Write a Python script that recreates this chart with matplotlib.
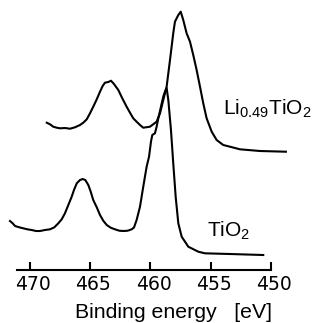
import numpy as np
import matplotlib
matplotlib.use("Agg")
import matplotlib.pyplot as plt
from matplotlib.ticker import FixedLocator
from matplotlib.transforms import ScaledTranslation

plt.rcParams['font.family'] = ['Liberation Sans', 'DejaVu Sans']
plt.rcParams['mathtext.fontset'] = 'custom'
plt.rcParams['mathtext.rm'] = 'Liberation Sans'
plt.rcParams['mathtext.it'] = 'Liberation Sans:italic'

# Ti 2p XPS spectra, intensity in arbitrary units
li_energy = [468.61, 468.34, 468.07, 467.78, 467.51, 467.10, 466.68, 466.27,
             465.85, 465.58, 465.29, 465.02, 464.75, 464.46, 464.19, 463.97,
             463.78, 463.50, 463.28, 463.03, 462.67, 462.34, 461.98, 461.70,
             461.43, 461.15, 460.87, 460.60, 460.04, 459.49, 459.21, 458.94,
             458.66, 458.38, 458.11, 457.97, 457.69, 457.49, 457.28, 457.00,
             456.72, 456.45, 456.17, 455.89, 455.62, 455.34, 454.92, 454.51,
             453.96, 453.40, 452.57, 450.91, 448.76]
li_counts = [146.3, 144.7, 142.3, 141.3, 140.7, 141.0, 140.3, 141.7,
             144.0, 146.3, 149.7, 155.7, 162.3, 169.7, 177.3, 183.0,
             186.3, 187.0, 188.3, 185.0, 179.0, 170.7, 162.3, 156.3,
             150.7, 147.3, 144.0, 141.3, 142.3, 147.3, 155.7, 169.0,
             182.3, 209.0, 235.7, 247.3, 254.0, 257.3, 249.0, 235.7,
             227.3, 214.0, 199.0, 182.3, 165.7, 150.7, 137.3, 129.0,
             124.0, 122.3, 119.7, 118.0, 117.3]

tio2_energy = [471.66, 471.44, 471.24, 470.89, 470.56, 470.22, 469.86, 469.50,
               469.17, 468.76, 468.34, 467.98, 467.65, 467.37, 467.10, 466.82,
               466.54, 466.35, 466.12, 465.85, 465.63, 465.41, 465.16, 464.96,
               464.75, 464.46, 464.19, 463.92, 463.63, 463.30, 462.95, 462.59,
               462.26, 461.89, 461.56, 461.37, 461.15, 460.87, 460.60, 460.32,
               460.12, 459.96, 459.85, 459.63, 459.49, 459.35, 459.13, 458.94,
               458.80, 458.66, 458.52, 458.30, 458.11, 457.91, 457.69, 457.41,
               456.86, 456.03, 455.48, 453.40, 450.64]
tio2_counts = [48.0, 45.7, 43.0, 41.7, 40.7, 39.7, 39.0, 38.0,
               38.0, 39.0, 39.7, 41.7, 45.7, 49.7, 55.7, 64.0,
               72.3, 79.0, 85.7, 89.0, 90.0, 89.0, 84.0, 77.3,
               69.0, 61.7, 54.0, 48.3, 44.0, 41.3, 39.7, 38.3,
               38.0, 38.3, 39.7, 41.5, 49.0, 62.3, 82.3, 102.3,
               112.3, 127.3, 134.0, 135.7, 142.3, 150.7, 162.3, 172.3,
               177.3, 181.0, 169.0, 139.0, 105.7, 72.3, 45.7, 32.3,
               22.3, 17.3, 15.7, 15.0, 14.0]

ticks = [470, 465, 460, 455, 450]

fig = plt.figure(figsize=(3.2, 3.23), dpi=100)
ax = fig.add_axes([0, 0.1656, 1, 0.8344])

ax.plot(li_energy, li_counts, color='black', lw=1.5, clip_on=False)
ax.plot(tio2_energy, tio2_counts, color='black', lw=1.5, clip_on=False)

ax.set_xlim(472.49, 445.93)
ax.set_ylim(-0.5, 269)

for side in ['top', 'left', 'right']:
    ax.spines[side].set_visible(False)
ax.spines['bottom'].set_bounds(450, 471.08)
ax.spines['bottom'].set_linewidth(1.5)
ax.set_yticks([])
ax.patch.set_alpha(0)

ax.xaxis.set_major_locator(FixedLocator(ticks))
ax.tick_params(axis='x', direction='in', length=6, width=1.5, pad=4)
offset = ScaledTranslation(3 / 100, 0, fig.dpi_scale_trans)
for lab in ax.get_xticklabels():
    lab.set_fontfamily('DejaVu Sans')
    lab.set_fontsize(13.5)
    lab.set_transform(lab.get_transform() + offset)

ax.set_xlabel('Binding energy   [eV]', fontsize=15.3)
ax.xaxis.label.set_va('baseline')
ax.xaxis.set_label_coords(0.542, -0.18)

ax.text(453.96, 154, r'Li$_{0.49}$TiO$_2$', fontsize=15, va='baseline', ha='left')
ax.text(455.34, 32.5, r'TiO$_2$', fontsize=15, va='baseline', ha='left')

fig.savefig('out.png', dpi=100)
